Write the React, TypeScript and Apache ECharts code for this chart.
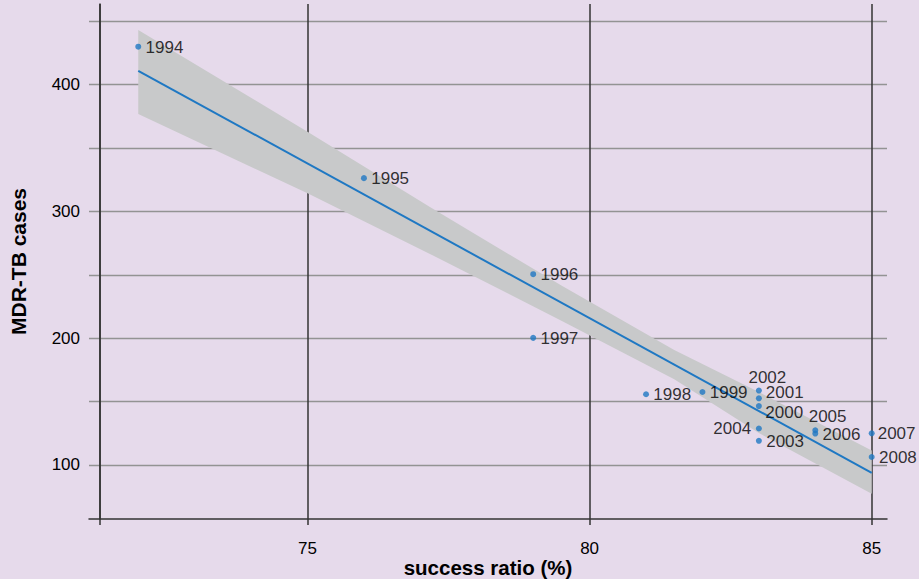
import React, { useEffect, useRef } from "react";
import * as echarts from "echarts";

// ---- data ----
const years = ["1994", "1995", "1996", "1997", "1998", "1999", "2000", "2001", "2002", "2003", "2004", "2005", "2006", "2007", "2008"];
const successRatio = [72, 76, 79, 79, 81, 82, 83, 83, 83, 83, 83, 84, 84, 85, 85];
const mdrCases = [430, 326.3, 250.5, 200.3, 155.8, 157.6, 146.5, 152.6, 158.7, 119.1, 128.8, 127.4, 124.8, 125, 106.3];

// fitted regression line (end points) and its confidence band
const fitX = [72, 85];
const fitY = [411.0, 93.8];
const bandX = [72, 75, 77.17, 79.5, 81.5, 83, 85];
const bandUpper = [443.1, 362.9, 303.5, 241.5, 190.8, 157.5, 111.4];
const bandLower = [376.9, 314.3, 266.5, 213.8, 167.6, 125.2, 77.3];

// axis ticks
const xTickLabels = [75, 80, 85];
const yTickLabels = [100, 200, 300, 400];
const yGridValues = [100, 150, 200, 250, 300, 350, 400, 450];

// ---- layout / style ----
const X_MIN = 71.127;
const X_MAX = 85.271;
const Y_MIN = 57.4;
const Y_MAX = 463.66;
const Y_AXIS_AT = 71.322; // x value where the y axis line sits

const BG = "#e6daeb";
const BLUE = "#1f78c3";
const BAND = "#c8c9ca";
const DARK = "#333333";
const GRID_GRAY = "#939393";
const LABEL_FONT = "'Liberation Sans', Arial, Helvetica, sans-serif";
const BOLD = "'Liberation Sans', Arial, Helvetica, sans-serif";

type Placement = { dx: number; dy: number; align: "left" | "center" | "right" };
const defaultPlacement: Placement = { dx: 7.3, dy: 0.5, align: "left" };
const labelPlacement: Record<string, Placement> = {
  "2002": { dx: 8.5, dy: -13.5, align: "center" },
  "2001": { dx: 7, dy: -5.5, align: "left" },
  "2000": { dx: 6.4, dy: 6, align: "left" },
  "2004": { dx: -7.7, dy: 0.5, align: "right" },
  "2005": { dx: 12.3, dy: -14.2, align: "center" },
  "2007": { dx: 6, dy: -0.2, align: "left" },
};

export default function App() {
  const ref = useRef<HTMLDivElement>(null);

  useEffect(() => {
    if (!ref.current) return;
    const chart = echarts.init(ref.current, undefined, { renderer: "svg" });

    const scatterData = years.map((y, i) => {
      const p = labelPlacement[y] || defaultPlacement;
      return {
        value: [successRatio[i], mdrCases[i]],
        name: y,
        label: {
          show: true,
          formatter: y,
          position: "inside",
          align: p.align,
          verticalAlign: "middle",
          offset: [p.dx, p.dy],
        },
      };
    });

    const option: any = {
      animation: false,
      backgroundColor: BG,
      grid: { left: 89, right: 32, top: 4, bottom: 60, containLabel: false, outerBoundsMode: "none" },
      xAxis: {
        type: "value",
        min: X_MIN,
        max: X_MAX,
        name: "success ratio (%)",
        nameLocation: "middle",
        nameGap: 37.5,
        nameMoveOverlap: false,
        nameTextStyle: { fontFamily: BOLD, fontWeight: "bold", fontSize: 20.5, color: "#000" },
        axisLine: { show: true, onZero: false, lineStyle: { color: DARK, width: 1.5 } },
        axisTick: { show: true, customValues: [Y_AXIS_AT, ...xTickLabels], length: 6, lineStyle: { color: DARK, width: 1.5 } },
        axisLabel: { customValues: xTickLabels, margin: 21, fontFamily: LABEL_FONT, fontSize: 17, color: "#000" },
        splitLine: { show: true, lineStyle: { color: DARK, width: 1.5 } },
      },
      yAxis: {
        type: "value",
        min: Y_MIN,
        max: Y_MAX,
        offset: -11,
        name: "MDR-TB cases",
        nameLocation: "middle",
        nameGap: 71,
        nameMoveOverlap: false,
        nameTextStyle: { fontFamily: BOLD, fontWeight: "bold", fontSize: 21, color: "#000" },
        axisLine: { show: true, onZero: false, lineStyle: { color: DARK, width: 1.5 } },
        axisTick: { show: false, customValues: yGridValues },
        axisLabel: { customValues: yTickLabels, margin: 20, fontFamily: LABEL_FONT, fontSize: 17, color: "#000" },
        splitLine: { show: true, lineStyle: { color: GRID_GRAY, width: 1.3 } },
      },
      series: [
        {
          type: "custom",
          data: bandX.map((x, i) => [x, bandUpper[i], bandLower[i]]),
          encode: { x: 0, y: [1, 2] },
          z: 1,
          silent: true,
          renderItem: (params: any, api: any) => {
            if (params.dataIndex !== 0) return { type: "group", children: [] };
            const upper = bandX.map((x, i) => api.coord([x, bandUpper[i]]));
            const lower = bandX.map((x, i) => api.coord([x, bandLower[i]])).reverse();
            return {
              type: "polygon",
              shape: { points: [...upper, ...lower] },
              style: { fill: BAND, stroke: null },
            };
          },
        },
        {
          type: "line",
          data: fitX.map((x, i) => [x, fitY[i]]),
          symbol: "none",
          z: 2,
          lineStyle: { color: BLUE, width: 2 },
          silent: true,
        },
        {
          type: "scatter",
          data: scatterData,
          symbol: "circle",
          symbolSize: 6,
          z: 3,
          itemStyle: { color: BLUE },
          label: { fontFamily: LABEL_FONT, fontSize: 17, color: "#000" },
        },
      ],
    };

    chart.setOption(option);
    return () => chart.dispose();
  }, []);

  return (
    <div
      ref={ref}
      style={{ position: "absolute", left: 0, top: 0, width: 919, height: 579, background: BG }}
    />
  );
}
